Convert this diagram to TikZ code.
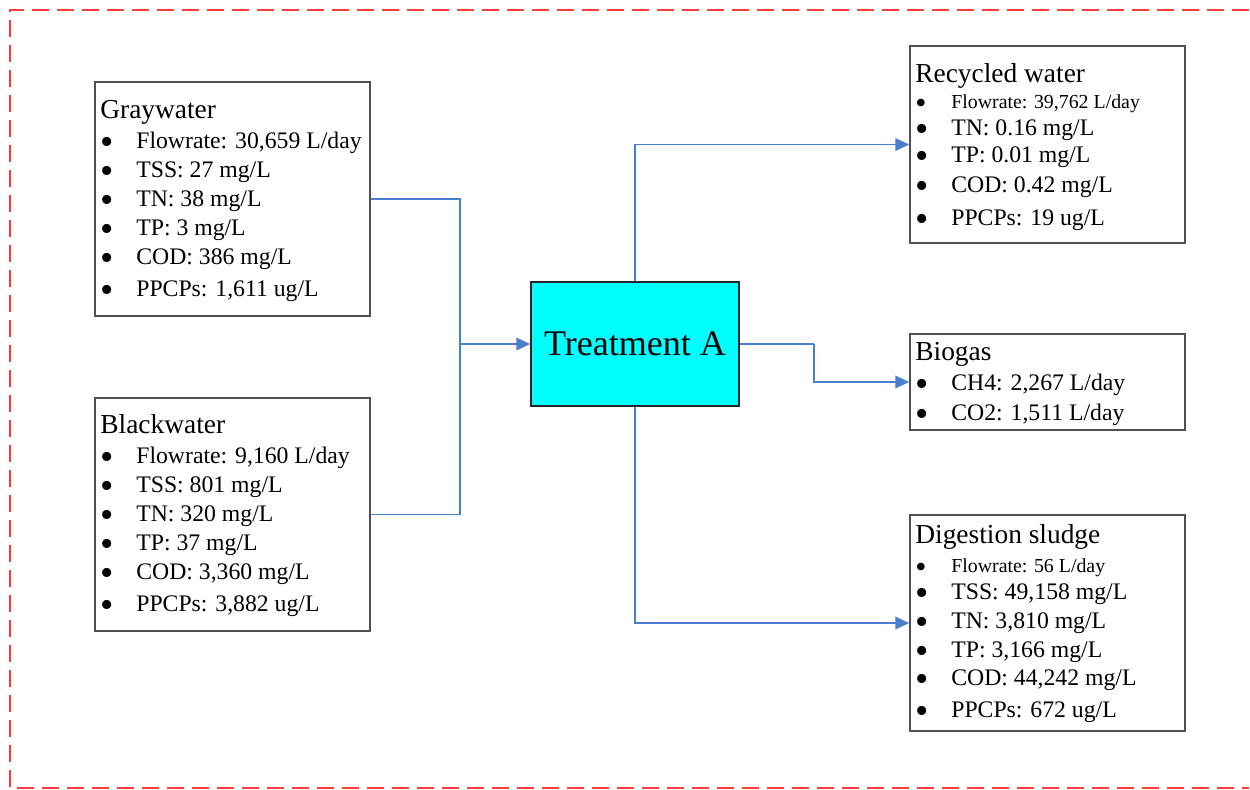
\documentclass[tikz,border=0pt]{standalone}
\usepackage{fontspec}
\setmainfont{Liberation Serif}
\usetikzlibrary{arrows.meta}
\definecolor{flowblue}{HTML}{4A7FD0}
\definecolor{boxgray}{HTML}{505050}
\definecolor{dashred}{HTML}{FF3B3B}
\definecolor{tacyan}{HTML}{00FFFF}
\newcommand\bl[1]{\makebox[0.72cm][l]{\smash{\raisebox{-0.27em}{\scalebox{1.6}{\textbullet}}}}#1}
\begin{document}
\begin{tikzpicture}[x=0.02cm,y=-0.02cm,
  box/.style={draw=boxgray, line width=0.85pt, inner sep=0pt, fill=white},
  tabox/.style={draw=black!85, line width=0.85pt, fill=tacyan, inner sep=0pt, font=\fontsize{20.5}{24}\selectfont},
  txt/.style={anchor=base west, inner sep=0pt, font=\fontsize{13.5}{16}\selectfont},
  ttl/.style={anchor=base west, inner sep=0pt, font=\fontsize{15.6}{18}\selectfont},
  sml/.style={anchor=base west, inner sep=0pt, font=\fontsize{11.3}{14}\selectfont},
  flow/.style={draw=flowblue, line width=1.1pt},
  arr/.style={flow, -{Triangle[length=0.28cm,width=0.25cm]}}]
\useasboundingbox (0,0) rectangle (1250,789);
% dashed frame
\draw[dashred, line width=1.1pt, dash pattern=on 0.34cm off 0.16cm] (1249,10) -- (9.7,10) -- (9.7,788) -- (1249,788);

% boxes
\node[box, minimum width=5.5cm, minimum height=4.68cm] (gw) at (232.5,199) {};
\node[box, minimum width=5.5cm, minimum height=4.66cm] (bw) at (232.5,514.5) {};
\node[tabox, minimum width=4.16cm, minimum height=2.48cm] (ta) at (635,344) {Treatment A};
\node[box, minimum width=5.5cm, minimum height=3.94cm] (rw) at (1047.5,144.5) {};
\node[box, minimum width=5.5cm, minimum height=1.92cm] (bg) at (1047.5,382) {};
\node[box, minimum width=5.5cm, minimum height=4.32cm] (ds) at (1047.5,623) {};

% Graywater text
\node[ttl] (gwt) at (100,118) {Graywater};
\node[txt] (gw1) at (100,148) {\bl{Flowrate: 30,659 L/day}};
\node[txt] (gw2) at (100,177) {\bl{TSS: 27 mg/L}};
\node[txt] (gw3) at (100,206) {\bl{TN: 38 mg/L}};
\node[txt] (gw4) at (100,235) {\bl{TP: 3 mg/L}};
\node[txt] (gw5) at (100,264) {\bl{COD: 386 mg/L}};
\node[txt] (gw6) at (100,296) {\bl{PPCPs: 1,611 ug/L}};

% Blackwater text
\node[ttl] (bwt) at (100,433) {Blackwater};
\node[txt] (bw1) at (100,463) {\bl{Flowrate: 9,160 L/day}};
\node[txt] (bw2) at (100,492) {\bl{TSS: 801 mg/L}};
\node[txt] (bw3) at (100,521) {\bl{TN: 320 mg/L}};
\node[txt] (bw4) at (100,550) {\bl{TP: 37 mg/L}};
\node[txt] (bw5) at (100,579) {\bl{COD: 3,360 mg/L}};
\node[txt] (bw6) at (100,611) {\bl{PPCPs: 3,882 ug/L}};

% Recycled water text
\node[ttl] (rwt) at (915,82) {Recycled water};
\node[sml] (rw1) at (915,108) {\bl{Flowrate: 39,762 L/day}};
\node[txt] (rw2) at (915,135) {\bl{TN: 0.16 mg/L}};
\node[txt] (rw3) at (915,162) {\bl{TP: 0.01 mg/L}};
\node[txt] (rw4) at (915,192) {\bl{COD: 0.42 mg/L}};
\node[txt] (rw5) at (915,225) {\bl{PPCPs: 19 ug/L}};

% Biogas text
\node[ttl] (bgt) at (915,360) {Biogas};
\node[txt] (bg1) at (915,390) {\bl{CH4: 2,267 L/day}};
\node[txt] (bg2) at (915,420) {\bl{CO2: 1,511 L/day}};

% Digestion sludge text
\node[ttl] (dst) at (915,543) {Digestion sludge};
\node[sml] (ds1) at (915,572) {\bl{Flowrate: 56 L/day}};
\node[txt] (ds2) at (915,599) {\bl{TSS: 49,158 mg/L}};
\node[txt] (ds3) at (915,628) {\bl{TN: 3,810 mg/L}};
\node[txt] (ds4) at (915,657) {\bl{TP: 3,166 mg/L}};
\node[txt] (ds5) at (915,685) {\bl{COD: 44,242 mg/L}};
\node[txt] (ds6) at (915,717) {\bl{PPCPs: 672 ug/L}};

% connectors
\coordinate (j) at (460,344);
\coordinate (k) at (814,344);
\draw[flow] (gw.east) -| (j);
\draw[flow] (bw.east) -| (j);
\draw[arr] (j) -- (ta.west);
\draw[arr] (ta.north) |- (rw.west);
\draw[flow] (ta.east) -- (k);
\draw[arr] (k) |- (bg.west);
\draw[arr] (ta.south) |- (ds.west);
\end{tikzpicture}
\end{document}
